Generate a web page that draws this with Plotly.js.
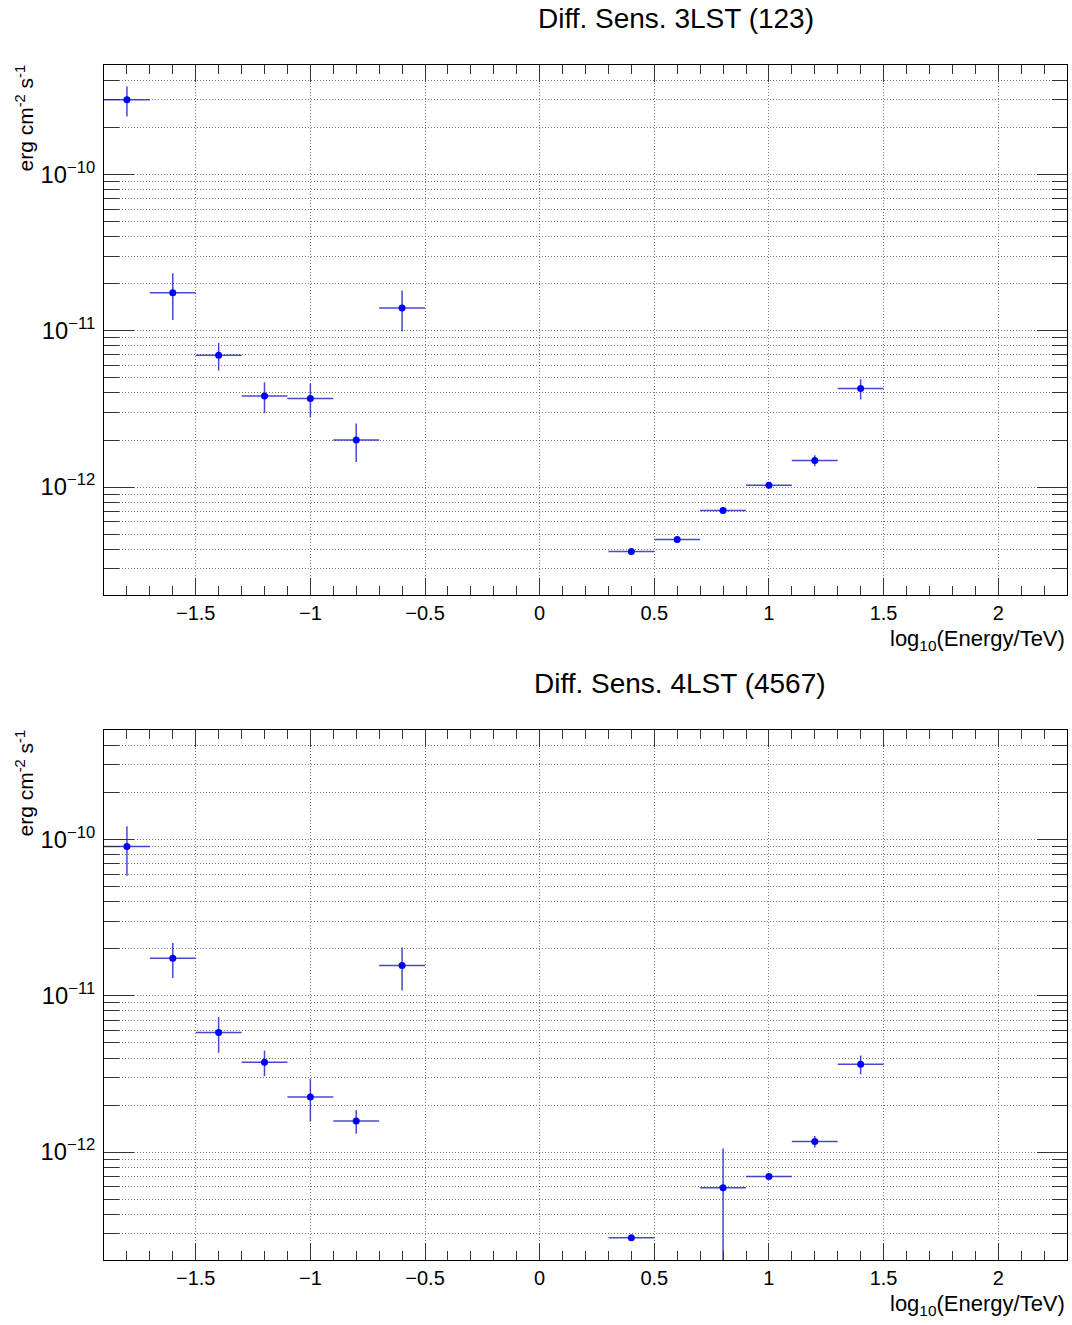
<!DOCTYPE html>
<html>
<head>
<meta charset="utf-8">
<script src="https://cdn.plot.ly/plotly-3.0.1.min.js"></script>
<style>html,body{margin:0;padding:0;background:#fff;}#chart{width:1072px;height:1325px;}</style>
</head>
<body>
<div id="chart"></div>
<script>
// ---- data ----
const titleTop = "Diff. Sens. 3LST (123)";
const titleBot = "Diff. Sens. 4LST (4567)";
const yTitle = "erg cm<sup>-2</sup> s<sup>-1</sup>";
const xTitle = "log<sub>10</sub>(Energy/TeV)";
const binHalfWidth = 0.1;

const xTop = [-1.8, -1.6, -1.4, -1.2, -1.0, -0.8, -0.6, 0.4, 0.6, 0.8, 1.0, 1.2, 1.4];
const yTop = [3.0e-10, 1.75e-11, 6.97e-12, 3.83e-12, 3.69e-12, 2.0e-12, 1.40e-11, 3.88e-13, 4.63e-13, 7.09e-13, 1.026e-12, 1.48e-12, 4.27e-12];
const eTop = [6.5e-11, 5.8e-12, 1.4e-12, 8.5e-13, 9.0e-13, 5.5e-13, 4.1e-12, 8e-15, 1.2e-14, 2.8e-14, 4e-14, 1.2e-13, 6.3e-13];

const xBot = [-1.8, -1.6, -1.4, -1.2, -1.0, -0.8, -0.6, 0.4, 0.8, 1.0, 1.2, 1.4];
const yBot = [9.0e-11, 1.74e-11, 5.82e-12, 3.76e-12, 2.25e-12, 1.58e-12, 1.56e-11, 2.83e-13, 5.91e-13, 6.98e-13, 1.17e-12, 3.65e-12];
const eBot = [3.15e-11, 4.4e-12, 1.5e-12, 7e-13, 6.8e-13, 2.7e-13, 4.8e-12, 6e-15, 4.65e-13, 2.5e-14, 1e-13, 5e-13];

// ---- style ----
const font = "Liberation Sans, Arial, Helvetica, sans-serif";
const barColor = "rgba(40,40,200,0.85)";
const gridColor = "rgba(60,60,60,0.7)";
const gridDash = "1px,2px";

function trace(x, y, e, xa, ya) {
  return {
    x: x, y: y, xaxis: xa, yaxis: ya, type: "scatter", mode: "markers",
    marker: {color: "#0000ff", size: 7, symbol: "circle"},
    error_y: {type: "data", array: e, visible: true, color: barColor, thickness: 1.5, width: 0},
    error_x: {type: "constant", value: binHalfWidth, visible: true, color: barColor, thickness: 1.5, width: 0},
    showlegend: false, hoverinfo: "x+y"
  };
}

function xAxis(anchor) {
  return {
    anchor: anchor, range: [-1.9, 2.3], dtick: 0.5, tick0: 0,
    ticks: "inside", ticklen: 17, tickwidth: 1, tickcolor: "#333",
    mirror: "ticks", showline: true, linecolor: "#000", linewidth: 1,
    showgrid: true, gridcolor: gridColor, griddash: gridDash, gridwidth: 1,
    zeroline: false,
    tickfont: {family: font, size: 20, color: "#000"},
    minor: {dtick: 0.1, ticks: "inside", ticklen: 9, tickcolor: "#333", showgrid: false},
    automargin: false
  };
}
function yAxis(anchor, domain) {
  return {
    anchor: anchor, domain: domain, type: "log", range: [-12.69, -9.30], dtick: 1,
    exponentformat: "power", showexponent: "all",
    ticks: "inside", ticklen: 30, tickwidth: 1, tickcolor: "#333",
    mirror: "ticks", showline: true, linecolor: "#000", linewidth: 1,
    showgrid: true, gridcolor: gridColor, griddash: gridDash, gridwidth: 1,
    zeroline: false, ticklabelstandoff: 4,
    tickfont: {family: font, size: 19, color: "#000"},
    minor: {dtick: "D1", ticks: "inside", ticklen: 15, tickcolor: "#333", showgrid: true, gridcolor: gridColor, griddash: gridDash, gridwidth: 1},
    automargin: false
  };
}

const data = [trace(xTop, yTop, eTop, "x", "y"), trace(xBot, yBot, eBot, "x2", "y2")];

const ann = (text, x, y, xa, ya, size, extra) => Object.assign({
  text: text, xref: "paper", yref: "paper", x: x, y: y, xanchor: xa, yanchor: ya,
  showarrow: false, font: {family: font, size: size, color: "#000"}
}, extra || {});

const layout = {
  width: 1072, height: 1325,
  margin: {l: 104, r: 5, t: 65, b: 65},
  paper_bgcolor: "#fff", plot_bgcolor: "#fff",
  xaxis: xAxis("y"), yaxis: yAxis("x", [0.5565, 1]),
  xaxis2: xAxis("y2"), yaxis2: yAxis("x2", [0, 0.4435]),
  annotations: [
    ann(titleTop, 0.594, 1.0393, "center", "middle", 28),
    ann(titleBot, 0.598, 0.4828, "center", "middle", 28),
    ann(yTitle, -0.082, 1.0017, "center", "top", 21, {textangle: -90}),
    ann(yTitle, -0.082, 0.4452, "center", "top", 21, {textangle: -90}),
    ann(xTitle, 1.0, 0.5190, "right", "middle", 22),
    ann(xTitle, 1.0, -0.0377, "right", "middle", 22)
  ]
};

Plotly.newPlot("chart", data, layout, {staticPlot: true});
</script>
</body>
</html>
